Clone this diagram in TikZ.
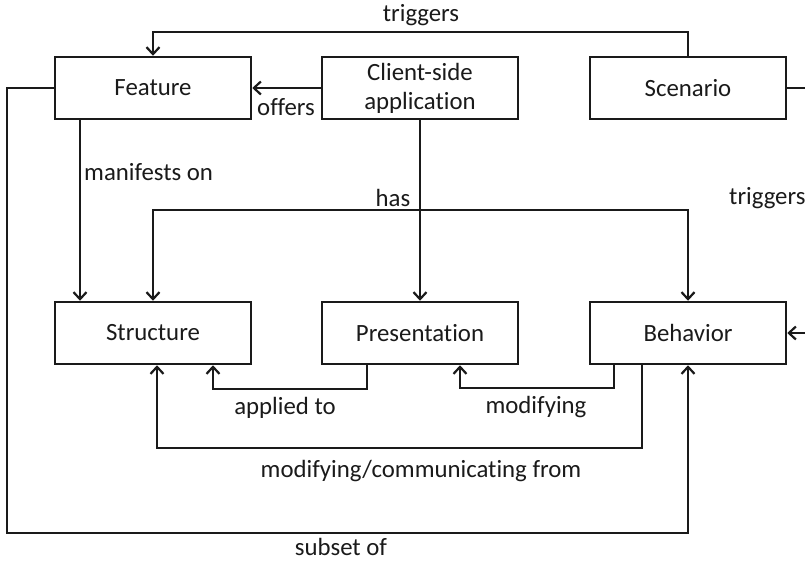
\documentclass[tikz,border=0pt]{standalone}
\usepackage{fontspec}
\setmainfont{Carlito}[Ligatures={NoCommon}]
\usetikzlibrary{arrows.meta}
\definecolor{ink}{HTML}{1A1A1A}
\tikzset{
  concept/.style={draw=ink, line width=2.5pt, minimum width=196pt, minimum height=62pt,
    inner sep=0pt, align=center, text=ink, font=\fontsize{24.8}{29}\selectfont},
  link/.style={draw=ink, line width=2.2pt, -{Straight Barb[length=7pt,width=13pt,line width=2.2pt]}},
  lbl/.style={text=ink, inner sep=0pt, font=\fontsize{24.8}{29}\selectfont}
}
\begin{document}
\begin{tikzpicture}[x=1pt, y=-1pt]
\useasboundingbox (0,0) rectangle (805,563);
\clip (0,0) rectangle (805,563);
\fill[white] (0,0) rectangle (805,563);

% upper row
\node[concept] (feature)  at (153,88) {Feature};
\node[concept] (client)   at (420,88) {Client-side\\application};
\node[concept] (scenario) at (688,88) {Scenario};
% lower row
\node[concept] (structure)    at (153,333) {Structure};
\node[concept] (presentation) at (420,333) {Presentation};
\node[concept] (behavior)     at (688,333) {Behavior};

% Scenario triggers Feature
\draw[link] (scenario.north) |- (420,32) -| (feature.north);
\node[lbl] (trigA) at (421,15) {triggers};

% Client-side application offers Feature
\draw[link] (client.west) -- (feature.east);
\node[lbl] (offers) at (286,107) {offers};

% Feature manifests on Structure
\draw[link] ([xshift=-73pt]feature.south) -- ([xshift=-73pt]structure.north);
\node[lbl, anchor=west] (manif) at (84,172) {manifests on};

% Client-side application has Structure / Presentation / Behavior
\draw[link] (client.south) -- (presentation.north);
\coordinate (hasjoin) at (420,210);
\draw[link] (hasjoin) -| (structure.north);
\draw[link] (hasjoin) -| (behavior.north);
\node[lbl] (has) at (393,198) {has};

% Scenario triggers Behavior (loop on the right)
\draw[link] (scenario.east) -- ++(40,0) |- (behavior.east);
\node[lbl, anchor=west] (trigB) at (729,198) {triggers};

% Presentation applied to Structure
\draw[link] ([xshift=-53pt]presentation.south) |- (213,389) -- ([xshift=60pt]structure.south);
\node[lbl] (applied) at (285,408) {applied to};

% Behavior modifying Presentation
\draw[link] ([xshift=-74pt]behavior.south) |- (460,388) -- ([xshift=40pt]presentation.south);
\node[lbl] (modif) at (536,407) {modifying};

% Behavior modifying/communicating from Structure
\draw[link] ([xshift=-46pt]behavior.south) |- (157,448) -- ([xshift=4pt]structure.south);
\node[lbl] (modcom) at (421,471) {modifying/communicating from};

% Feature subset of Behavior
\draw[link] (feature.west) -| (7,533) -| (behavior.south);
\node[lbl] (subset) at (341,547) {subset of};
\end{tikzpicture}
\end{document}
